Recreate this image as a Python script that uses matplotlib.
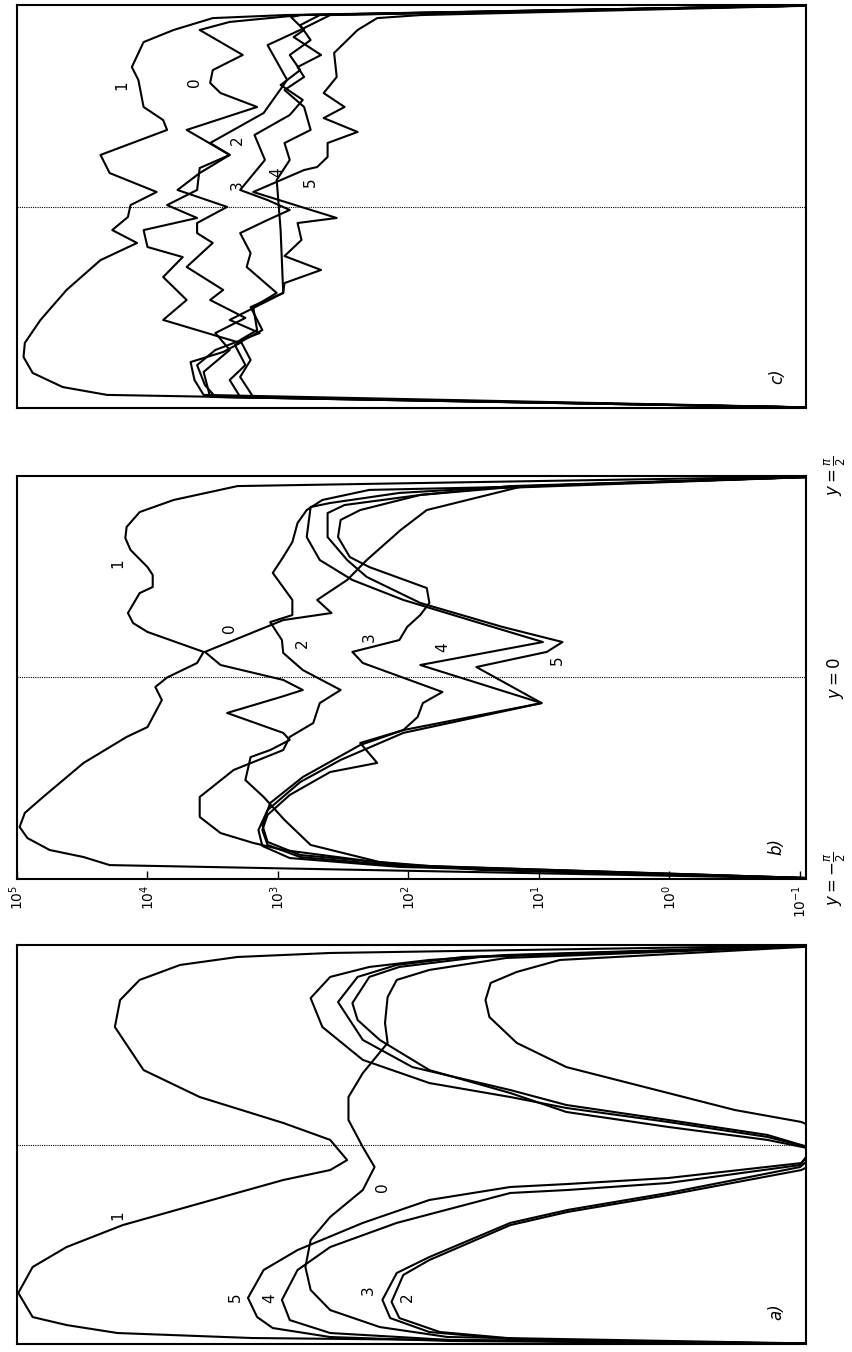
import numpy as np
import matplotlib
matplotlib.use("Agg")
import matplotlib.pyplot as plt
from matplotlib.ticker import FixedLocator, NullLocator
import matplotlib.transforms as mtransforms

# ------------------------------------------------------------------
# Data: Y is the coordinate y in units of pi/2 (from +1 to -1),
# LOG is log10 of the plotted quantity.
# ------------------------------------------------------------------
# panel a)
A1_Y = [1.0, 0.960, 0.940, 0.900, 0.825, 0.724, 0.589, 0.373, 0.238, 0.108, 0.023, -0.078, -0.128, -0.178, -0.253, -0.404, -0.514, -0.614, -0.744, -0.865, -0.905, -0.945, -0.970, -1.0]
A1_LOG = [-1.3, 2.60, 3.31, 3.75, 4.06, 4.21, 4.25, 4.03, 3.60, 2.96, 2.60, 2.47, 2.60, 2.96, 3.37, 4.19, 4.62, 4.88, 4.99, 4.88, 4.62, 4.23, 3.20, -1.3]
A0_Y = [1.0, 0.935, 0.875, 0.825, 0.739, 0.609, 0.509, 0.358, 0.238, 0.123, -0.013, -0.113, -0.228, -0.363, -0.479, -0.614, -0.729, -0.830, -0.915, -0.965, -1.0]
A0_LOG = [-1.3, 1.25, 1.84, 2.09, 2.16, 2.18, 2.16, 2.35, 2.46, 2.46, 2.35, 2.26, 2.35, 2.60, 2.75, 2.79, 2.75, 2.60, 2.22, 1.70, -1.3]
A2_Y = [1.0, 0.925, 0.865, 0.810, 0.724, 0.639, 0.509, 0.388, 0.258, 0.173, 0.113, 0.0, -0.128, -0.253, -0.338, -0.404, -0.579, -0.654, -0.789, -0.870, -0.940, -0.980, -1.0]
A2_LOG = [-1.3, 0.84, 1.17, 1.37, 1.41, 1.38, 1.17, 0.79, 0.01, -0.50, -1.01, -1.4, -1.01, 0.01, 0.78, 1.22, 1.84, 2.04, 2.13, 2.07, 1.76, 1.07, -1.3]
A3_Y = [1.0, 0.940, 0.890, 0.840, 0.709, 0.624, 0.524, 0.373, 0.258, 0.163, 0.088, 0.023, -0.030, -0.113, -0.243, -0.328, -0.393, -0.564, -0.644, -0.779, -0.870, -0.940, -0.980, -1.0]
A3_LOG = [-1.3, 1.45, 2.07, 2.30, 2.43, 2.39, 2.22, 1.84, 1.22, 0.79, 0.01, -0.75, -1.15, -1.0, 0.01, 0.78, 1.22, 1.84, 2.09, 2.20, 2.14, 1.84, 1.15, -1.3]
A4_Y = [1.0, 0.940, 0.900, 0.840, 0.714, 0.524, 0.388, 0.273, 0.198, 0.123, 0.048, -0.020, -0.103, -0.193, -0.228, -0.243, -0.393, -0.514, -0.629, -0.779, -0.880, -0.945, -0.980, -1.0]
A4_LOG = [-1.3, 1.58, 2.09, 2.39, 2.54, 2.35, 1.97, 1.22, 0.79, 0.01, -0.75, -1.1, -1.0, 0.01, 0.78, 1.22, 2.09, 2.60, 2.85, 2.97, 2.91, 2.60, 1.68, -1.3]
A5_Y = [1.0, 0.950, 0.925, 0.890, 0.840, 0.734, 0.589, 0.424, 0.308, 0.238, 0.183, 0.113, 0.038, -0.020, -0.093, -0.168, -0.198, -0.213, -0.278, -0.393, -0.529, -0.629, -0.769, -0.865, -0.920, -0.965, -0.985, -1.0]
A5_LOG = [-1.3, 1.25, 1.84, 2.30, 2.60, 2.75, 2.66, 2.35, 1.84, 1.22, 0.79, 0.01, -0.75, -1.1, -1.01, 0.01, 0.78, 1.22, 1.84, 2.35, 2.85, 3.11, 3.23, 3.16, 3.04, 2.60, 1.68, -1.3]

# panel b)
B1_Y = [1.0, 0.950, 0.881, 0.821, 0.747, 0.692, 0.633, 0.548, 0.509, 0.449, 0.419, 0.320, 0.270, 0.226, 0.127, 0.072, 0.0, -0.047, -0.112, -0.246, -0.295, -0.424, -0.593, -0.672, -0.742, -0.797, -0.856, -0.891, -0.931, -1.0]
B1_LOG = [-1.3, 3.31, 3.80, 4.06, 4.16, 4.17, 4.13, 4.00, 3.96, 3.96, 4.06, 4.15, 4.11, 4.00, 3.57, 3.62, 3.85, 3.94, 3.89, 4.00, 4.16, 4.49, 4.80, 4.94, 4.98, 4.92, 4.75, 4.49, 4.29, -1.3]
B0_Y = [1.0, 0.955, 0.945, 0.831, 0.732, 0.583, 0.484, 0.385, 0.320, 0.285, 0.127, 0.062, -0.012, -0.062, -0.097, -0.176, -0.275, -0.310, -0.360, -0.395, -0.509, -0.593, -0.707, -0.831, -0.916, -0.955, -1.0]
B0_LOG = [-1.3, 0.84, 1.15, 1.86, 2.06, 2.32, 2.47, 2.70, 2.59, 2.96, 3.56, 3.44, 2.96, 2.81, 2.98, 3.39, 2.96, 2.91, 3.06, 3.21, 3.25, 3.11, 2.95, 2.75, 2.22, 1.45, -1.3]
B2_Y = [1.0, 0.945, 0.931, 0.881, 0.831, 0.767, 0.672, 0.598, 0.519, 0.385, 0.310, 0.275, 0.186, 0.122, 0.037, -0.062, -0.127, -0.226, -0.295, -0.360, -0.459, -0.593, -0.692, -0.772, -0.821, -0.856, -0.931, -1.0]
B2_LOG = [-1.3, 1.30, 2.30, 2.66, 2.78, 2.85, 2.89, 2.96, 3.04, 2.89, 2.89, 3.06, 2.97, 2.96, 2.81, 2.52, 2.68, 2.73, 2.91, 2.96, 3.34, 3.60, 3.60, 3.44, 3.19, 2.96, 2.07, -1.3]
B3_Y = [1.0, 0.940, 0.906, 0.831, 0.782, 0.697, 0.598, 0.548, 0.444, 0.370, 0.310, 0.251, 0.186, 0.127, 0.072, -0.072, -0.127, -0.196, -0.261, -0.325, -0.424, -0.469, -0.583, -0.682, -0.757, -0.831, -0.891, -0.935, -1.0]
B3_LOG = [-1.3, 1.30, 1.91, 2.37, 2.52, 2.54, 2.45, 2.30, 1.86, 1.84, 1.91, 2.01, 2.07, 2.43, 2.35, 1.74, 1.89, 1.93, 2.04, 2.37, 2.24, 2.60, 2.91, 3.08, 3.12, 3.08, 2.83, 2.07, -1.3]
B4_Y = [1.0, 0.945, 0.916, 0.866, 0.846, 0.697, 0.583, 0.484, 0.385, 0.285, 0.176, 0.062, -0.127, -0.261, -0.335, -0.494, -0.623, -0.732, -0.816, -0.881, -0.935, -1.0]
B4_LOG = [-1.3, 1.30, 2.07, 2.60, 2.75, 2.78, 2.68, 2.43, 2.04, 1.53, 0.97, 1.91, 0.98, 2.04, 2.37, 2.81, 3.06, 3.12, 3.08, 2.83, 1.91, -1.3]
B5_Y = [1.0, 0.950, 0.906, 0.856, 0.816, 0.697, 0.583, 0.499, 0.370, 0.251, 0.176, 0.127, 0.052, -0.127, -0.275, -0.409, -0.519, -0.658, -0.757, -0.836, -0.896, -0.940, -1.0]
B5_LOG = [-1.3, 1.22, 1.91, 2.49, 2.62, 2.62, 2.47, 2.32, 1.91, 1.28, 0.82, 0.94, 1.48, 0.98, 2.04, 2.52, 2.83, 3.08, 3.15, 3.12, 2.91, 2.07, -1.3]

# panel c)
C1_Y = [1.0, 0.950, 0.935, 0.876, 0.816, 0.692, 0.628, 0.494, 0.429, 0.380, 0.256, 0.166, 0.072, 0.007, -0.052, -0.117, -0.181, -0.266, -0.414, -0.563, -0.677, -0.747, -0.826, -0.896, -0.935, -1.0]
C1_LOG = [-1.3, 2.95, 3.50, 3.80, 4.03, 4.12, 4.07, 4.03, 3.88, 3.85, 4.36, 4.29, 3.93, 4.13, 4.15, 4.27, 4.08, 4.36, 4.62, 4.82, 4.94, 4.95, 4.88, 4.65, 4.31, -1.3]
C0_Y = [1.0, 0.950, 0.916, 0.876, 0.752, 0.677, 0.613, 0.563, 0.494, 0.380, 0.256, 0.191, 0.082, 0.007, -0.057, -0.117, -0.201, -0.251, -0.350, -0.464, -0.563, -0.677, -0.722, -0.772, -0.861, -0.935, -1.0]
C0_LOG = [-1.3, 2.83, 3.37, 3.60, 3.27, 3.50, 3.52, 3.44, 3.16, 3.70, 3.37, 3.60, 3.62, 3.85, 3.62, 4.03, 4.00, 3.73, 3.88, 3.70, 3.88, 3.29, 3.42, 3.67, 3.64, 3.57, -1.3]
C2_Y = [1.0, 0.950, 0.876, 0.801, 0.628, 0.464, 0.315, 0.256, 0.166, 0.082, -0.002, -0.082, -0.132, -0.181, -0.300, -0.414, -0.464, -0.553, -0.628, -0.712, -0.821, -0.945, -1.0]
C2_LOG = [-1.3, 2.60, 2.83, 3.08, 2.93, 3.11, 3.52, 3.37, 3.60, 3.77, 3.39, 3.62, 3.62, 3.50, 3.70, 3.42, 3.52, 3.25, 3.48, 3.37, 3.57, 3.52, -1.3]
C3_Y = [1.0, 0.950, 0.900, 0.826, 0.752, 0.677, 0.603, 0.529, 0.454, 0.355, 0.231, 0.082, 0.032, -0.017, -0.067, -0.132, -0.231, -0.300, -0.429, -0.499, -0.613, -0.663, -0.762, -0.846, -0.945, -1.0]
C3_LOG = [-1.3, 2.68, 2.83, 2.75, 2.91, 2.83, 2.98, 2.81, 2.91, 3.18, 3.10, 3.29, 3.08, 2.91, 3.08, 3.29, 3.21, 3.24, 3.01, 3.19, 3.16, 3.29, 3.21, 3.29, 3.19, -1.3]
C4_Y = [1.0, 0.950, 0.940, 0.876, 0.841, 0.752, 0.692, 0.643, 0.578, 0.494, 0.380, 0.315, 0.231, 0.132, -0.117, -0.429, -0.499, -0.613, -0.687, -0.787, -0.861, -0.945, -1.0]
C4_LOG = [-1.3, 2.83, 2.90, 2.80, 2.88, 2.67, 2.85, 2.80, 2.95, 2.80, 2.75, 2.95, 2.91, 3.01, 2.98, 2.96, 3.21, 3.12, 3.33, 3.25, 3.37, 3.29, -1.3]
C5_Y = [1.0, 0.950, 0.935, 0.876, 0.762, 0.643, 0.563, 0.494, 0.439, 0.370, 0.315, 0.246, 0.196, 0.181, 0.072, -0.057, -0.082, -0.166, -0.246, -0.315, -0.380, -0.429, -0.563, -0.628, -0.712, -0.787, -0.886, -0.945, -1.0]
C5_LOG = [-1.3, 1.91, 2.24, 2.39, 2.57, 2.55, 2.65, 2.49, 2.65, 2.39, 2.62, 2.62, 2.70, 2.80, 3.19, 2.55, 2.85, 2.82, 2.95, 2.67, 2.95, 2.96, 3.37, 3.14, 3.48, 3.62, 3.56, 3.48, -1.3]

CURVE_NAMES = ["0", "1", "2", "3", "4", "5"]
TICK_EXPONENTS = [5, 4, 3, 2, 1, 0, -1]
Y_LABELS = [r"$y=\frac{\pi}{2}$", r"$y=0$", r"$y=-\frac{\pi}{2}$"]
Y_LABEL_POS = [1.0, 0.0, -1.0]
PANEL_NAMES = ["a)", "b)", "c)"]

# curve-label anchor points (log10 value, y/(pi/2))
LABELS_A = {"1": (4.23, -0.353), "0": (2.20, -0.213), "5": (3.33, -0.765),
            "4": (3.06, -0.770), "3": (2.31, -0.730), "2": (2.01, -0.765)}
LABELS_B = {"1": (4.23, 0.568), "0": (3.37, 0.246), "2": (2.81, 0.171),
            "3": (2.30, 0.201), "4": (1.74, 0.151), "5": (0.86, 0.087)}
LABELS_C = {"1": (4.20, 0.603), "0": (3.64, 0.618), "2": (3.31, 0.330),
            "3": (3.31, 0.106), "4": (3.01, 0.171), "5": (2.75, 0.122)}

panels = {
    "a": ([A0_Y, A1_Y, A2_Y, A3_Y, A4_Y, A5_Y],
          [A0_LOG, A1_LOG, A2_LOG, A3_LOG, A4_LOG, A5_LOG], LABELS_A),
    "b": ([B0_Y, B1_Y, B2_Y, B3_Y, B4_Y, B5_Y],
          [B0_LOG, B1_LOG, B2_LOG, B3_LOG, B4_LOG, B5_LOG], LABELS_B),
    "c": ([C0_Y, C1_Y, C2_Y, C3_Y, C4_Y, C5_Y],
          [C0_LOG, C1_LOG, C2_LOG, C3_LOG, C4_LOG, C5_LOG], LABELS_C),
}

W, H = 852, 1352
fig = plt.figure(figsize=(W / 100, H / 100), dpi=100)

def frac_rect(x0, y_top, x1, y_bot):
    return [x0 / W, 1 - y_bot / H, (x1 - x0) / W, (y_bot - y_top) / H]

ax_rects = {
    "c": frac_rect(17, 5, 806, 408),
    "b": frac_rect(17, 476, 806, 879),
    "a": frac_rect(17, 945, 806, 1344),
}
XLEFT, XRIGHT = 1e5, 10 ** -1.046
HALF = np.pi / 2

for key, panel_name in zip(["a", "b", "c"], PANEL_NAMES):
    ax = fig.add_axes(ax_rects[key])
    ax.set_xscale("log")
    ax.set_xlim(XLEFT, XRIGHT)
    ax.set_ylim(-HALF, HALF)
    ys, logs, labels = panels[key]
    for name, yy, ll in zip(CURVE_NAMES, ys, logs):
        ax.plot(10 ** np.asarray(ll), np.asarray(yy) * HALF, color="black",
                lw=1.5, solid_joinstyle="round")
    for name, (lv, sv) in labels.items():
        ax.text(10 ** lv, sv * HALF, name, rotation=90, ha="center",
                va="center", fontsize=11)
    ax.axhline(0.0, color="black", lw=0.8, ls=(0, (1, 1)))
    for sp in ax.spines.values():
        sp.set_linewidth(1.5)
    ax.set_yticks([])
    ax.xaxis.set_minor_locator(NullLocator())
    if key == "b":
        ax.xaxis.set_major_locator(FixedLocator([10.0 ** e for e in TICK_EXPONENTS]))
        ax.set_xticklabels([r"$10^{%d}$" % e for e in TICK_EXPONENTS])
        ax.tick_params(axis="x", which="major", direction="in", length=6,
                       width=1.0, labelsize=10, pad=4, labelrotation=90)
        trans = mtransforms.blended_transform_factory(ax.transAxes, ax.transData)
        for lab, pos in zip(Y_LABELS, Y_LABEL_POS):
            ax.text(1.037, pos * HALF, lab, transform=trans, rotation=90,
                    ha="center", va="center", fontsize=12)
    else:
        ax.set_xticks([])
    ax.text(0.963, 0.08, panel_name, transform=ax.transAxes, rotation=90,
            ha="center", va="center", fontsize=12, style="italic")

fig.savefig("out.png", dpi=100)
